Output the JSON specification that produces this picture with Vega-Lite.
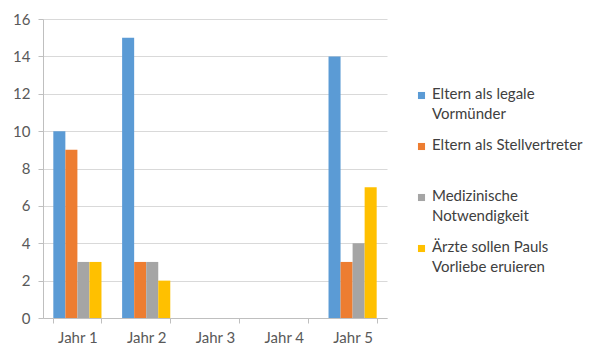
{
  "$schema": "https://vega.github.io/schema/vega-lite/v6.json",
  "width": 344,
  "height": 299,
  "autosize": {"type": "none"},
  "padding": {"left": 43, "top": 19, "right": 213, "bottom": 42},
  "background": "white",
  "data": {"values": [
    {"jahr": "Jahr 1", "serie": "Eltern als legale Vormünder", "wert": 10},
    {"jahr": "Jahr 1", "serie": "Eltern als Stellvertreter", "wert": 9},
    {"jahr": "Jahr 1", "serie": "Medizinische Notwendigkeit", "wert": 3},
    {"jahr": "Jahr 1", "serie": "Ärzte sollen Pauls Vorliebe eruieren", "wert": 3},
    {"jahr": "Jahr 2", "serie": "Eltern als legale Vormünder", "wert": 15},
    {"jahr": "Jahr 2", "serie": "Eltern als Stellvertreter", "wert": 3},
    {"jahr": "Jahr 2", "serie": "Medizinische Notwendigkeit", "wert": 3},
    {"jahr": "Jahr 2", "serie": "Ärzte sollen Pauls Vorliebe eruieren", "wert": 2},
    {"jahr": "Jahr 3", "serie": "Eltern als legale Vormünder", "wert": 0},
    {"jahr": "Jahr 3", "serie": "Eltern als Stellvertreter", "wert": 0},
    {"jahr": "Jahr 3", "serie": "Medizinische Notwendigkeit", "wert": 0},
    {"jahr": "Jahr 3", "serie": "Ärzte sollen Pauls Vorliebe eruieren", "wert": 0},
    {"jahr": "Jahr 4", "serie": "Eltern als legale Vormünder", "wert": 0},
    {"jahr": "Jahr 4", "serie": "Eltern als Stellvertreter", "wert": 0},
    {"jahr": "Jahr 4", "serie": "Medizinische Notwendigkeit", "wert": 0},
    {"jahr": "Jahr 4", "serie": "Ärzte sollen Pauls Vorliebe eruieren", "wert": 0},
    {"jahr": "Jahr 5", "serie": "Eltern als legale Vormünder", "wert": 14},
    {"jahr": "Jahr 5", "serie": "Eltern als Stellvertreter", "wert": 3},
    {"jahr": "Jahr 5", "serie": "Medizinische Notwendigkeit", "wert": 4},
    {"jahr": "Jahr 5", "serie": "Ärzte sollen Pauls Vorliebe eruieren", "wert": 7}
  ]},
  "mark": {"type": "bar"},
  "encoding": {
    "x": {
      "field": "jahr", "type": "nominal", "title": null,
      "scale": {"paddingInner": 0.3, "paddingOuter": 0.15},
      "axis": {"labelAngle": 0, "tickBand": "extent", "domainColor": "#BFBFBF", "tickColor": "#BFBFBF", "tickSize": 5, "labelPadding": 7, "labelColor": "#595959", "labelFontSize": 15, "labelFont": "Lato"}
    },
    "xOffset": {
      "field": "serie", "type": "nominal",
      "sort": ["Eltern als legale Vormünder", "Eltern als Stellvertreter", "Medizinische Notwendigkeit", "Ärzte sollen Pauls Vorliebe eruieren"],
      "scale": {"paddingInner": 0, "paddingOuter": 0}
    },
    "y": {
      "field": "wert", "type": "quantitative", "title": null,
      "scale": {"domain": [0, 16], "nice": false},
      "axis": {"values": [0, 2, 4, 6, 8, 10, 12, 14, 16], "labelOverlap": false, "domainColor": "#BFBFBF", "tickColor": "#BFBFBF", "gridColor": "#D9D9D9", "tickSize": 5, "labelPadding": 8, "labelColor": "#595959", "labelFontSize": 15, "labelFont": "Lato"}
    },
    "color": {
      "field": "serie", "type": "nominal",
      "sort": ["Eltern als legale Vormünder", "Eltern als Stellvertreter", "Medizinische Notwendigkeit", "Ärzte sollen Pauls Vorliebe eruieren"],
      "scale": {"range": ["#5B9BD5", "#ED7D31", "#A5A5A5", "#FFC000"]},
      "legend": {
        "title": null,
        "orient": "none",
        "legendX": 371,
        "legendY": 69,
        "columns": 1,
        "gridAlign": "all",
        "symbolType": "square",
        "symbolSize": 50,
        "symbolStrokeWidth": 0,
        "labelFont": "Lato",
        "labelFontSize": 15,
        "labelColor": "#404040",
        "labelOffset": 3,
        "labelLimit": 0,
        "rowPadding": 15,
        "labelBaseline": "top",
        "labelExpr": "datum.label == 'Eltern als legale Vormünder' ? ['Eltern als legale', 'Vormünder'] : datum.label == 'Eltern als Stellvertreter' ? ['Eltern als Stellvertreter', ''] : datum.label == 'Medizinische Notwendigkeit' ? ['Medizinische', 'Notwendigkeit'] : ['Ärzte sollen Pauls', 'Vorliebe eruieren']",
        "encode": {"labels": {"update": {"lineHeight": {"value": 20}, "dy": {"value": -9}}}}
      }
    }
  },
  "config": {"view": {"stroke": null}, "font": "Lato"}
}
